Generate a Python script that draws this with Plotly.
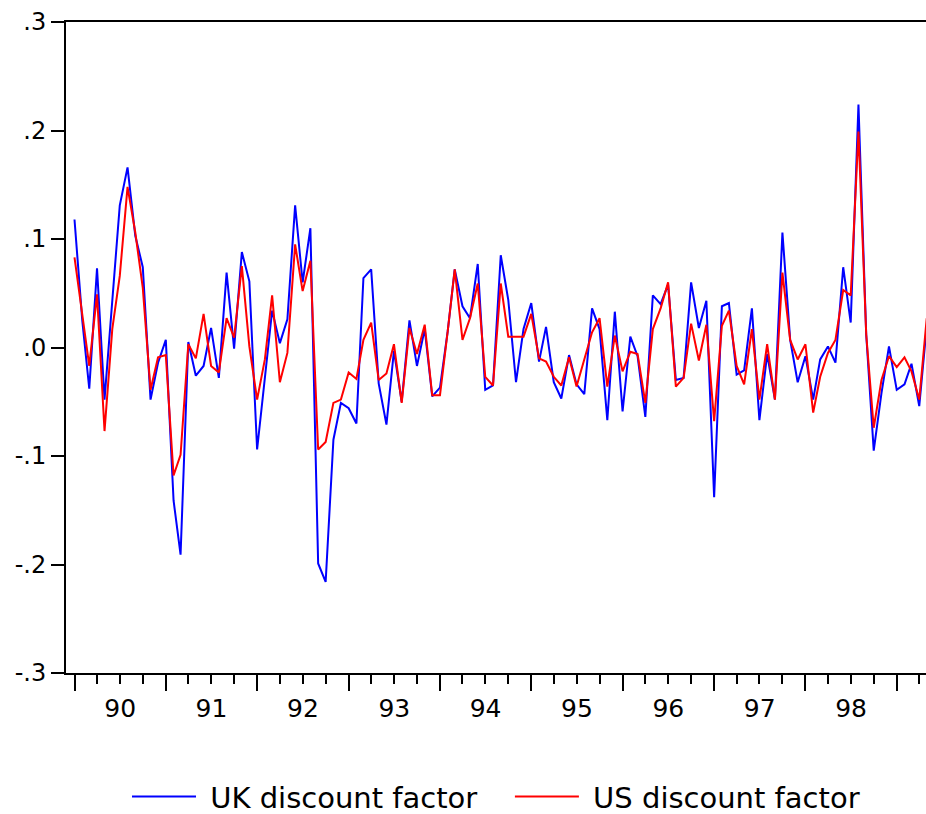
import pandas as pd
import plotly.graph_objects as go

# Monthly observations starting January 1990
start_month = "1990-01-01"

uk_discount = [
    0.118, 0.025, -0.038, 0.073, -0.048, 0.045, 0.131, 0.166, 0.103, 0.074,
    -0.048, -0.014, 0.007, -0.141, -0.191, 0.005, -0.026, -0.017, 0.018, -0.028,
    0.069, -0.001, 0.088, 0.061, -0.094, -0.028, 0.034, 0.004, 0.026, 0.131,
    0.060, 0.110, -0.199, -0.216, -0.085, -0.051, -0.056, -0.070, 0.064, 0.072,
    -0.033, -0.071, -0.003, -0.050, 0.025, -0.017, 0.017, -0.045, -0.037, 0.015,
    0.072, 0.038, 0.027, 0.077, -0.039, -0.035, 0.085, 0.044, -0.032, 0.017,
    0.041, -0.013, 0.019, -0.032, -0.047, -0.007, -0.034, -0.043, 0.036, 0.017,
    -0.067, 0.033, -0.059, 0.010, -0.008, -0.064, 0.048, 0.040, 0.058, -0.030,
    -0.028, 0.060, 0.018, 0.043, -0.138, 0.038, 0.041, -0.025, -0.021, 0.036,
    -0.067, -0.006, -0.048, 0.106, 0.007, -0.032, -0.008, -0.048, -0.011, 0.001,
    -0.014, 0.074, 0.023, 0.224, 0.012, -0.095, -0.042, 0.001, -0.039, -0.034,
    -0.015, -0.054, 0.020,
]

us_discount = [
    0.083, 0.030, -0.017, 0.049, -0.077, 0.017, 0.066, 0.148, 0.106, 0.055,
    -0.039, -0.009, -0.007, -0.118, -0.099, 0.003, -0.010, 0.031, -0.017, -0.023,
    0.027, 0.009, 0.075, 0.001, -0.048, -0.011, 0.048, -0.032, -0.005, 0.095,
    0.052, 0.080, -0.094, -0.087, -0.051, -0.048, -0.023, -0.029, 0.007, 0.023,
    -0.030, -0.024, 0.003, -0.051, 0.018, -0.006, 0.021, -0.044, -0.044, 0.015,
    0.072, 0.007, 0.027, 0.059, -0.027, -0.035, 0.059, 0.010, 0.010, 0.010,
    0.031, -0.010, -0.013, -0.027, -0.035, -0.009, -0.036, -0.012, 0.014, 0.027,
    -0.036, 0.011, -0.022, -0.004, -0.006, -0.051, 0.017, 0.036, 0.060, -0.036,
    -0.028, 0.022, -0.012, 0.021, -0.068, 0.020, 0.034, -0.017, -0.034, 0.017,
    -0.048, 0.003, -0.048, 0.069, 0.007, -0.011, 0.003, -0.060, -0.027, -0.005,
    0.007, 0.053, 0.048, 0.199, 0.012, -0.074, -0.030, -0.008, -0.018, -0.009,
    -0.022, -0.048, 0.027,
]

series_names = ["UK discount factor", "US discount factor"]
y_tick_values = [-0.3, -0.2, -0.1, 0.0, 0.1, 0.2, 0.3]
y_tick_labels = ["-.3", "-.2", "-.1", ".0", ".1", ".2", ".3"]

dates = pd.date_range(start_month, periods=len(uk_discount), freq="MS")

FONT = "DejaVu Sans"
NBSP = "\u00a0"

fig = go.Figure()
fig.add_trace(go.Scatter(
    x=dates, y=uk_discount, mode="lines",
    name=NBSP + series_names[0] + NBSP * 3,
    line=dict(color="#0000FF", width=2),
))
fig.add_trace(go.Scatter(
    x=dates, y=us_discount, mode="lines",
    name=NBSP + series_names[1],
    line=dict(color="#FF0000", width=2),
))

fig.update_layout(
    width=926, height=814,
    margin=dict(l=66, r=0, t=22, b=141, autoexpand=False),
    paper_bgcolor="white", plot_bgcolor="white",
    font=dict(family=FONT, color="black"),
    showlegend=True,
    legend=dict(
        orientation="h", x=0.5, xanchor="center", y=-0.19, yanchor="middle",
        font=dict(family=FONT, size=29, color="black"),
        itemwidth=64, tracegroupgap=0,
    ),
    xaxis=dict(
        type="date", automargin=False,
        range=["1989-11-28", "1999-04-28"],
        tick0="1990-01-01", dtick="M12",
        ticklabelmode="period", tickformat="%y",
        ticks="outside", ticklen=16, tickwidth=2, tickcolor="black",
        ticklabelstandoff=-4,
        minor=dict(dtick="M3", tick0="1990-01-01", ticks="outside",
                   ticklen=9, tickwidth=2, tickcolor="black", showgrid=False),
        showline=True, linecolor="black", linewidth=2, mirror=True,
        showgrid=False, zeroline=False,
        tickfont=dict(family=FONT, size=25, color="black"),
    ),
    yaxis=dict(
        automargin=False,
        range=[-0.3, 0.3],
        tickvals=y_tick_values, ticktext=y_tick_labels,
        ticks="outside", ticklen=13, tickwidth=2, tickcolor="black",
        showline=True, linecolor="black", linewidth=2,
        showgrid=False, zeroline=False,
        tickfont=dict(family=FONT, size=24, color="black"),
    ),
)

fig.write_html(
    "out.html",
    config={"displayModeBar": False},
    post_script="document.body.style.margin='0';document.body.style.overflow='hidden';",
)
